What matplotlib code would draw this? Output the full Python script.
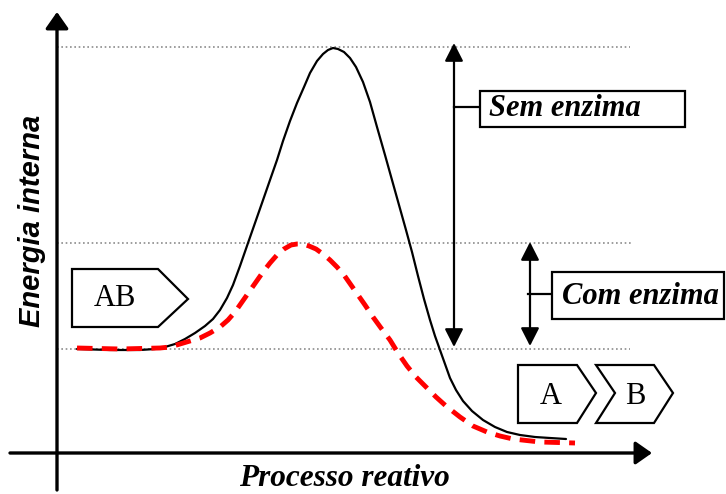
import matplotlib.pyplot as plt
from matplotlib.patches import Polygon, Rectangle

# reaction progress / internal energy (origin at the axes crossing)
progresso_sem = [20, 53, 83, 98, 108, 118, 128, 138, 148, 156, 163, 170, 176, 183, 191,
                 198, 205, 213, 220, 226, 233, 240, 247, 253, 260, 266, 271, 276, 281,
                 287, 293, 299, 306, 313, 320, 328, 335, 342, 349, 355, 361, 367, 373,
                 378, 383, 388, 393, 399, 406, 415, 426, 438, 450, 463, 478, 493, 509]
energia_sem = [104, 103, 103, 104, 106, 109, 114, 120, 127, 134, 143, 155, 168, 187, 210,
               230, 250, 273, 293, 312, 332, 350, 366, 380, 392, 399, 403, 405, 404,
               401, 395, 386, 371, 351, 326, 298, 273, 248, 223, 201, 177, 154, 133,
               117, 103, 89, 75, 63, 52, 42, 33, 26, 21, 18, 16, 15, 14]

progresso_com = [20, 63, 103, 113, 123, 133, 143, 153, 163, 171, 178, 185, 192, 199, 206,
                 213, 220, 227, 234, 240, 246, 252, 259, 266, 273, 280, 287, 294, 301,
                 308, 316, 324, 333, 341, 350, 359, 370, 379, 389, 403, 416, 430, 443,
                 456, 483, 518]
energia_com = [105, 104, 105, 106, 109, 112, 115, 120, 126, 133, 141, 151, 161, 171, 181,
               190, 198, 204, 208, 209, 209, 207, 204, 199, 193, 186, 178, 168, 158,
               148, 136, 125, 113, 100, 87, 76, 65, 56, 47, 36, 27, 21, 17,
               14, 11, 10]

nivel_reagentes = 104
nivel_sem = 406
nivel_com = 210

rotulos = ["Sem enzima", "Com enzima"]
especies = ["AB", "A", "B"]

fig = plt.figure(figsize=(7.26, 4.94), dpi=100)
ax = fig.add_axes([0, 0, 1, 1])
ax.set_xlim(-57, 669)
ax.set_ylim(-41, 453)
ax.axis('off')

serif = 'Liberation Serif'

# dotted reference levels
for nivel, x1 in [(nivel_sem, 573), (nivel_com, 576), (nivel_reagentes, 573)]:
    ax.plot([0, x1], [nivel, nivel], color='#8c8c8c', lw=1.2, ls=(0, (1, 1.6)), zorder=1)

# axes with arrow heads
axis_arrow = dict(arrowstyle='-|>,head_length=0.5,head_width=0.35', lw=2.4, color='k',
                  mutation_scale=20, shrinkA=0, shrinkB=0)
ax.annotate('', xy=(0, 441), xytext=(0, -37), arrowprops=axis_arrow)
ax.annotate('', xy=(595, 0), xytext=(-47, 0), arrowprops=axis_arrow)

# curves
ax.plot(progresso_sem, energia_sem, color='k', lw=1.6, zorder=3,
        solid_joinstyle='round', solid_capstyle='round')
ax.plot(progresso_com, energia_com, color='#ff0000', lw=3.5, dashes=(3.2, 1.9), zorder=4)

# activation energy arrows
dbl = dict(arrowstyle='<|-|>,head_length=0.55,head_width=0.28', lw=1.6, color='k',
           mutation_scale=20, shrinkA=0, shrinkB=0)
ax.annotate('', xy=(397, nivel_sem + 4), xytext=(397, nivel_reagentes + 2), arrowprops=dbl)
ax.annotate('', xy=(473, nivel_com + 1), xytext=(473, nivel_reagentes + 3), arrowprops=dbl)
ax.plot([397, 423], [346, 346], color='k', lw=1.6)
ax.plot([471, 495], [159, 159], color='k', lw=1.6)

ax.add_patch(Rectangle((423, 326), 205, 36, fc='white', ec='k', lw=1.6, zorder=5))
ax.add_patch(Rectangle((495, 134), 172, 47, fc='white', ec='k', lw=1.6, zorder=5))
ax.text(432, 344, rotulos[0], family=serif, weight='bold', style='italic', fontsize=22,
        va='center', ha='left', zorder=6)
ax.text(505, 157, rotulos[1], family=serif, weight='bold', style='italic', fontsize=22,
        va='center', ha='left', zorder=6)

# species tags
tag_ab = [(15, 184), (101, 184), (131, 154), (101, 126), (15, 126)]
tag_a = [(461, 88), (520, 88), (539, 60), (520, 30), (461, 30)]
tag_b = [(539, 88), (597, 88), (616, 60), (597, 30), (539, 30), (558, 60)]
for pts in [tag_ab, tag_a, tag_b]:
    ax.add_patch(Polygon(pts, closed=True, fc='white', ec='k', lw=1.6, zorder=5))
for (x, y), s in zip([(58, 155), (494, 57), (578, 57)], especies):
    ax.text(x, y, s, family=serif, fontsize=22, ha='center', va='center', zorder=6)

# axis titles
ax.text(-25, 232, "Energia interna", family='Liberation Sans', weight='bold', style='italic',
        fontsize=21, rotation=90, ha='center', va='center')
ax.text(287, -25, "Processo reativo", family=serif, weight='bold', style='italic',
        fontsize=22.5, ha='center', va='center')

fig.savefig('out.png', dpi=100)
